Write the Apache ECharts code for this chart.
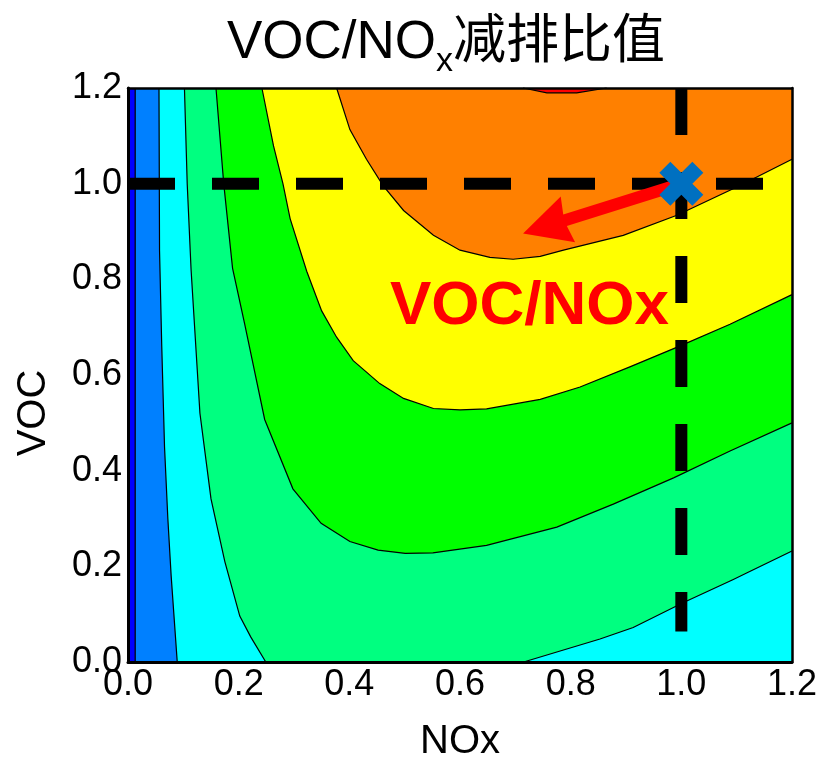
<!DOCTYPE html>
<html>
<head>
<meta charset="utf-8">
<script src="https://cdn.jsdelivr.net/npm/echarts@6/dist/echarts.min.js"></script>
<style>
  html, body { margin: 0; padding: 0; background: #fff; overflow: hidden; }
  #chart { width: 825px; height: 767px; }
</style>
</head>
<body>
<div id="chart"></div>
<script>
// Axis ranges and tick labels (relative emission of NOx and VOC)
const xRange = [0, 1.2];
const yRange = [0, 1.2];
const tickStep = 0.2;
const xTickLabels = ['0.0', '0.2', '0.4', '0.6', '0.8', '1.0', '1.2'];
const yTickLabels = ['0.0', '0.2', '0.4', '0.6', '0.8', '1.0', '1.2'];

// Isopleth boundaries, [NOx, VOC] pairs, from lowest level to highest
const level1 = [[0.013, 1.2], [0.013, 0]];
const level2 = [[0.056, 1.2], [0.057, 0.86], [0.061, 0.66], [0.066, 0.45], [0.072, 0.30], [0.078, 0.18], [0.089, 0]];
const level3a = [[0.102, 1.2], [0.107, 1.0], [0.114, 0.82], [0.130, 0.52], [0.150, 0.341], [0.175, 0.210],
                 [0.202, 0.096], [0.222, 0.052], [0.249, 0]];
const level3b = [[0.715, 0], [0.853, 0.048], [0.913, 0.072], [1.003, 0.124], [1.093, 0.172], [1.118, 0.186], [1.2, 0.232]];
const level4 = [[0.159, 1.2], [0.173, 1.0], [0.189, 0.823], [0.211, 0.706], [0.247, 0.507], [0.298, 0.362],
                [0.349, 0.290], [0.401, 0.252], [0.452, 0.234], [0.501, 0.227], [0.551, 0.228], [0.648, 0.244],
                [0.775, 0.282], [0.877, 0.330], [0.986, 0.385], [1.088, 0.441], [1.2, 0.50]];
const level5 = [[0.242, 1.2], [0.263, 1.079], [0.280, 1.0], [0.293, 0.927], [0.323, 0.817], [0.350, 0.734],
                [0.377, 0.679], [0.407, 0.630], [0.455, 0.582], [0.498, 0.551], [0.552, 0.530], [0.600, 0.527],
                [0.648, 0.529], [0.745, 0.549], [0.817, 0.575], [0.907, 0.617], [0.998, 0.661], [1.088, 0.706],
                [1.2, 0.768]];
const level6 = [[0.377, 1.2], [0.401, 1.113], [0.431, 1.051], [0.461, 0.996], [0.498, 0.944], [0.552, 0.892],
                [0.600, 0.861], [0.654, 0.846], [0.696, 0.842], [0.745, 0.848], [0.787, 0.861], [0.895, 0.892],
                [0.992, 0.934], [1.106, 0.996], [1.2, 1.051]];
const level7 = [[0.714, 1.2], [0.757, 1.19], [0.811, 1.19], [0.865, 1.2]];

// Fill colours of the bands, low to high
const bandColors = ['#0000ff', '#0080ff', '#00ffff', '#00ff80', '#00ff00', '#ffff00', '#ff8000', '#ff0000'];

// Reference case, reduction path and guide lines
const basePoint = [1.0, 1.0];
const arrowTip = [0.714, 0.896];
const vocGuide = [[0, 1.0], [1.15, 1.0]];
const noxGuide = [[1.0, 1.2], [1.0, 0.064]];

const FONT = "'Liberation Sans', Arial, 'Noto Sans CJK SC', sans-serif";

const TL = [xRange[0], yRange[1]], TR = [xRange[1], yRange[1]];
const BL = [xRange[0], yRange[0]], BR = [xRange[1], yRange[0]];

// Each band covers the high side of its boundary; closing corners finish the ring
const bands = [
  { color: bandColors[0], pieces: [], close: [BL, BR, TR, TL] },
  { color: bandColors[1], pieces: [level1], close: [BR, TR] },
  { color: bandColors[2], pieces: [level2], close: [BR, TR] },
  { color: bandColors[3], pieces: [level3a, level3b], close: [TR] },
  { color: bandColors[4], pieces: [level4], close: [TR] },
  { color: bandColors[5], pieces: [level5], close: [TR] },
  { color: bandColors[6], pieces: [level6], close: [TR] },
  { color: bandColors[7], pieces: [level7], close: [] }
];

function renderBand(params, api) {
  const b = bands[params.dataIndex];
  const ring = b.pieces.flat().concat(b.close).map(p => api.coord(p));
  const children = [{
    type: 'polygon', shape: { points: ring },
    style: { fill: b.color, stroke: null }
  }];
  b.pieces.forEach(pc => {
    children.push({
      type: 'polyline', shape: { points: pc.map(p => api.coord(p)) },
      style: { fill: null, stroke: '#000', lineWidth: 1.2 }
    });
  });
  return { type: 'group', children };
}

function renderArrow(params, api) {
  const a = api.coord(basePoint), b = api.coord(arrowTip);
  const dx = b[0] - a[0], dy = b[1] - a[1];
  const L = Math.hypot(dx, dy), ux = dx / L, uy = dy / L, nx = -uy, ny = ux;
  const headLen = 47, headHalf = 24, shaftHalf = 6, notch = 3;
  const base = [b[0] - ux * headLen, b[1] - uy * headLen];
  const neck = [b[0] - ux * (headLen - notch), b[1] - uy * (headLen - notch)];
  const off = (p, s) => [p[0] + nx * s, p[1] + ny * s];
  const pts = [off(a, shaftHalf), off(neck, shaftHalf), off(base, headHalf), b,
               off(base, -headHalf), off(neck, -shaftHalf), off(a, -shaftHalf)];
  return { type: 'polygon', shape: { points: pts }, style: { fill: '#ff0000', stroke: null } };
}

const tickIndex = v => Math.round((v - xRange[0]) / tickStep);

const axisCommon = {
  min: xRange[0], max: xRange[1], interval: tickStep,
  splitLine: { show: false }, axisTick: { show: false },
  axisLine: { show: true, onZero: false, lineStyle: { color: '#000', width: 3 } },
  z: 10
};

const chart = echarts.init(document.getElementById('chart'), null, { renderer: 'canvas' });
chart.setOption({
  animation: false,
  backgroundColor: '#fff',
  title: {
    text: '{a|VOC/NO}{s|x}{a|减排比值}',
    left: 222, top: 8,
    textStyle: {
      fontWeight: 'normal',
      rich: {
        a: { fontSize: 53, fontFamily: FONT, fontWeight: 'normal', color: '#000', lineHeight: 60 },
        s: { fontSize: 34, fontFamily: FONT, fontWeight: 'normal', color: '#000', lineHeight: 60,
             verticalAlign: 'bottom', padding: [0, 0, -6, 0] }
      }
    }
  },
  grid: { left: 128, top: 88, width: 664, height: 580, containLabel: false },
  xAxis: [
    Object.assign({}, axisCommon, {
      type: 'value', position: 'bottom',
      name: 'NOx', nameLocation: 'middle', nameGap: 60,
      nameTextStyle: { fontSize: 40, fontFamily: FONT, color: '#000' },
      axisLabel: { fontSize: 36, fontFamily: FONT, color: '#000', margin: 5,
                   showMinLabel: true, showMaxLabel: true, hideOverlap: false,
                   formatter: v => xTickLabels[tickIndex(v)] }
    }),
    Object.assign({}, axisCommon, {
      type: 'value', position: 'top', axisLabel: { show: false },
      axisLine: { show: true, onZero: false, lineStyle: { color: '#000', width: 2.5 } }
    })
  ],
  yAxis: [
    Object.assign({}, axisCommon, {
      type: 'value', position: 'left', min: yRange[0], max: yRange[1],
      axisLabel: { fontSize: 36, fontFamily: FONT, color: '#000', margin: 6,
                   showMinLabel: true, showMaxLabel: true, hideOverlap: false,
                   formatter: v => yTickLabels[tickIndex(v)] }
    }),
    Object.assign({}, axisCommon, {
      type: 'value', position: 'right', min: yRange[0], max: yRange[1], axisLabel: { show: false },
      axisLine: { show: true, onZero: false, lineStyle: { color: '#000', width: 2.5 } }
    })
  ],
  graphic: [
    {
      type: 'text', x: 34, y: 413, rotation: Math.PI / 2, z: 20,
      style: { text: 'VOC', fill: '#000', font: '40px ' + FONT, align: 'center', verticalAlign: 'middle' }
    },
    {
      type: 'text', left: 390, top: 276, z: 20,
      style: { text: 'VOC/NOx', fill: '#ff0000', font: 'bold 62px ' + FONT }
    }
  ],
  series: [
    {
      type: 'custom', name: 'isopleths', xAxisIndex: 0, yAxisIndex: 0,
      renderItem: renderBand, data: bands.map(() => [0, 0]), silent: true, z: 2
    },
    {
      type: 'line', name: 'VOC guide', data: vocGuide, symbol: 'none', silent: true, z: 4,
      lineStyle: { color: '#000', width: 12, type: [47, 37], cap: 'butt' }
    },
    {
      type: 'line', name: 'NOx guide', data: noxGuide, symbol: 'none', silent: true, z: 4,
      lineStyle: { color: '#000', width: 12, type: [47, 37], cap: 'butt' }
    },
    {
      type: 'custom', name: 'reduction path', renderItem: renderArrow, data: [[0, 0]], silent: true, z: 5
    },
    {
      type: 'scatter', name: 'base case', data: [basePoint], silent: true, z: 6,
      symbol: 'path://M0,25 L25,0 L50,25 L75,0 L100,25 L75,50 L100,75 L75,100 L50,75 L25,100 L0,75 L25,50 Z',
      symbolSize: 44, itemStyle: { color: '#0070c0', opacity: 1 }
    }
  ]
});
</script>
</body>
</html>
